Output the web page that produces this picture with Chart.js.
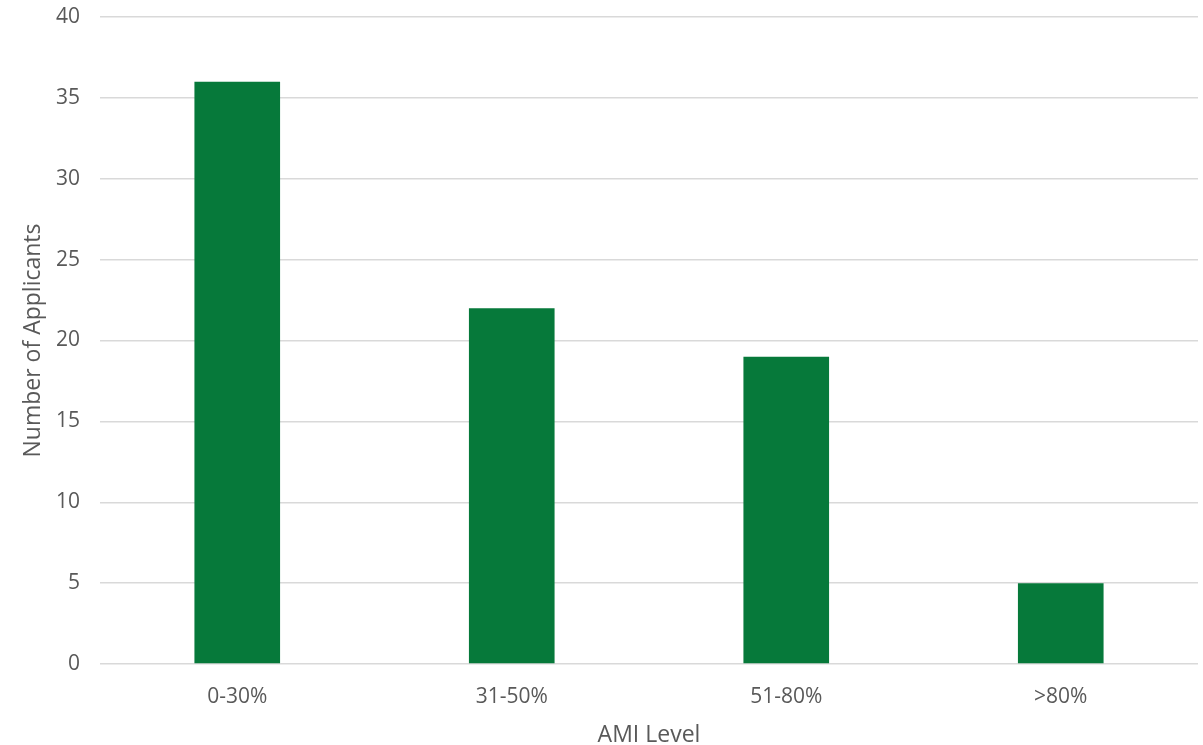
<!DOCTYPE html>
<html><head><meta charset="utf-8">
<script src="https://cdn.jsdelivr.net/npm/chart.js@4/dist/chart.umd.min.js"></script>
<style>html,body{margin:0;padding:0;background:#fff}#wrap{width:1203px;height:745px}</style>
</head><body><div id="wrap"><canvas id="c" width="1203" height="745"></canvas></div>
<script>
const categories = ["0-30%", "31-50%", "51-80%", ">80%"];
const applicants = [36, 22, 19, 5];
const yTicks = [0, 5, 10, 15, 20, 25, 30, 35, 40];

const textColor = "#595959";
const fontFamily = "'Open Sans', 'Liberation Sans', sans-serif";
new Chart(document.getElementById("c"), {
  type: "bar",
  data: {
    labels: categories,
    datasets: [{
      label: "Number of Applicants",
      data: applicants,
      backgroundColor: "#06793A",
      categoryPercentage: 1,
      barPercentage: 0.312
    }]
  },
  options: {
    responsive: false,
    animation: false,
    layout: { padding: { left: 20, right: 5, top: 17, bottom: 0 } },
    plugins: { legend: { display: false }, tooltip: { enabled: false } },
    scales: {
      x: {
        grid: { display: false, drawTicks: false },
        border: { display: false },
        ticks: { color: textColor, font: { family: fontFamily, size: 21 }, padding: 20 },
        title: { display: true, text: "AMI Level", color: textColor, font: { family: fontFamily, size: 23 }, padding: { top: 10, bottom: -4 } },
        afterFit(s) { s.height = 81; s.paddingLeft = 0; s.paddingRight = 0; }
      },
      y: {
        min: 0, max: 40,
        afterBuildTicks(s) { s.ticks = yTicks.map(v => ({ value: v })); },
        grid: { color: "#d9d9d9", lineWidth: 1.5, drawTicks: false },
        border: { display: false },
        ticks: { color: textColor, font: { family: fontFamily, size: 21 }, padding: 20 },
        title: { display: true, text: "Number of Applicants", color: textColor, font: { family: fontFamily, size: 23 }, padding: { top: 0, bottom: 6 } },
        afterFit(s) { s.width = 80; s.paddingTop = 0; s.paddingBottom = 0; }
      }
    }
  }
});
</script></body></html>
